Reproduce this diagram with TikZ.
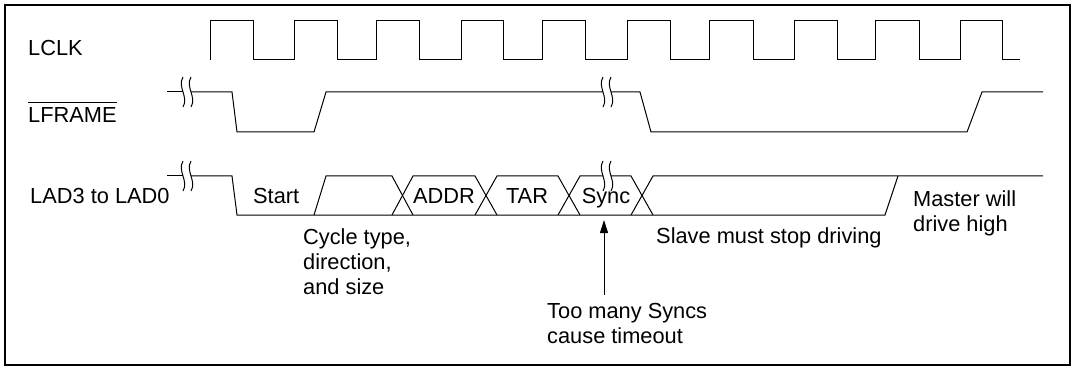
\documentclass[tikz,border=0pt]{standalone}
\usepackage{fontspec}
\setmainfont{Liberation Sans}
\usetikzlibrary{arrows.meta}
\begin{document}
\begin{tikzpicture}[x=1pt,y=-1pt,
  sig/.style={line width=1pt,line join=miter},
  lbl/.style={inner sep=0pt,anchor=base west,font=\fontsize{21.8}{25}\selectfont},
  cell/.style={inner sep=0pt,anchor=base,font=\fontsize{21.8}{25}\selectfont},
  note/.style={inner sep=0pt,anchor=base west,align=left,font=\fontsize{21.8}{25}\selectfont},
  arr/.style={line width=1pt,-{Triangle[length=13pt,width=8pt]}},
  brk/.pic={\draw[sig] (-4,-15) .. controls (-10,-5) and (2,5) .. (-4,15);
            \draw[sig] (4,-15) .. controls (-2,-5) and (10,5) .. (4,15);}
]
\useasboundingbox (0,0) rectangle (1075,366);
\draw[line width=2pt] (5,5.5) rectangle (1070,365);

% labels
\node[lbl] (lclk) at (28,55.5) {LCLK};
\node[lbl] (lframe) at (28,123) {LFRAME};
\draw[line width=1.2pt] ([yshift=5]lframe.north west) -- ([yshift=5]lframe.north east);
\node[lbl] (lad) at (30,204) {LAD3 to LAD0};

% LCLK
\draw[sig] (210,60) -- (210,21) -- (253,21) -- (253,60) -- (294,60)
  -- (294,21) -- (337,21) -- (337,60) -- (376,60)
  -- (376,21) -- (419,21) -- (419,60) -- (461,60)
  -- (461,21) -- (503,21) -- (503,60) -- (542,60)
  -- (542,21) -- (585,21) -- (585,60) -- (627,60)
  -- (627,21) -- (670,21) -- (670,60) -- (709,60)
  -- (709,21) -- (753,21) -- (753,60) -- (794,60)
  -- (794,21) -- (837,21) -- (837,60) -- (875,60)
  -- (875,21) -- (919,21) -- (919,60) -- (960,60)
  -- (960,21) -- (1002,21) -- (1002,60) -- (1020,60);

% LFRAME
\draw[sig] (167,92) -- (183,92);
\draw[sig] (191,92) -- (232,92) -- (237,132) -- (314,132) -- (326,92) -- (603,92);
\draw[sig] (611,92) -- (640,92) -- (651,132) -- (967,132) -- (982,92) -- (1043,92);
\pic at (187,92) {brk};
\pic at (607,92) {brk};

% LAD
\draw[sig] (167,176) -- (183,176);
\draw[sig] (191,176) -- (232,176) -- (237,215) -- (885,215) -- (898,176);
\draw[sig] (314,215) -- (326,176) -- (392,176) -- (413,215);
\draw[sig] (392,215) -- (413,176) -- (475,176) -- (497,215);
\draw[sig] (475,215) -- (497,176) -- (558,176) -- (580,215);
\draw[sig] (558,215) -- (580,176) -- (603,176);
\draw[sig] (611,176) -- (631,176) -- (653,215);
\draw[sig] (631,215) -- (653,176) -- (1043,176);
\pic at (187,176) {brk};
\pic at (607,176) {brk};

% bus texts
\node[lbl] (start) at (253,203) {Start};
\node[cell] (addr) at (444,203) {ADDR};
\node[cell] (tar) at (527,203) {TAR};
\node[cell] (sync) at (606,203) {Sync};

% notes (base anchor = last line baseline)
\node[note] (cycle) at (303,294) {Cycle type,\\direction,\\and size};
\node[note] (slave) at (656,243) {Slave must stop driving};
\node[note] (master) at (913,231) {Master will\\drive high};
\node[note] (timeout) at (547,343) {Too many Syncs\\cause timeout};
\coordinate (tip) at (604,220);
\draw[arr] ([yshift=8]timeout.north -| tip) -- (tip);
\end{tikzpicture}
\end{document}
